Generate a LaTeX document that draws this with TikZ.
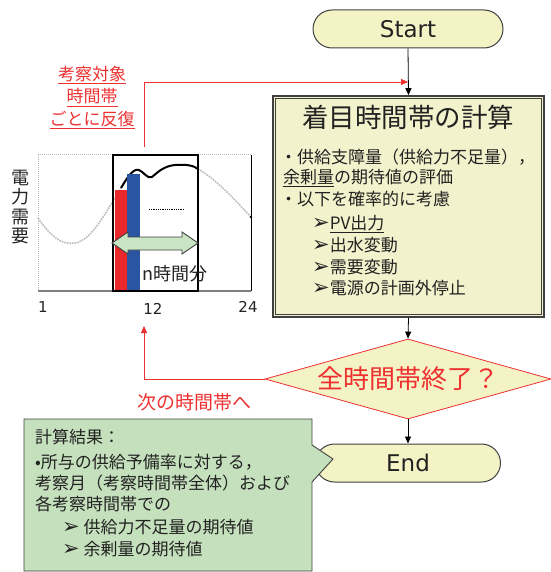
\documentclass[tikz,border=0pt]{standalone}
\usepackage{fontspec}
\setmainfont{DejaVu Sans}
\newfontfamily\jp{Noto Sans CJK JP}
\newfontfamily\dv{DejaVu Sans}
\usetikzlibrary{shapes.geometric,shapes.misc,arrows.meta,calc}
\definecolor{termfill}{HTML}{F3F3C6}
\definecolor{boxfill}{HTML}{F2F2CC}
\definecolor{callfill}{HTML}{C5E0BC}
\definecolor{myred}{HTML}{EE3030}
\definecolor{myblue}{HTML}{2A55A3}
\definecolor{barred}{HTML}{E8282B}
\definecolor{dblgreen}{HTML}{C8E4C2}
\definecolor{textdark}{HTML}{222222}
\definecolor{lineg}{HTML}{404040}
\definecolor{dotg}{HTML}{BBBBBB}
\newcommand{\arrbul}{{\dv\fontsize{21}{17}\selectfont ➢}}
\begin{document}
\begin{tikzpicture}[x=1pt,y=-1pt,
  term/.style={rounded rectangle, draw=lineg, line width=1pt, fill=termfill,
    minimum height=38pt, inner sep=0pt, text=textdark,
    font=\dv\fontsize{23}{23}\selectfont},
  flow/.style={-{Triangle[length=7pt,width=6pt]}, line width=0.8pt, draw=black},
  redflow/.style={-{Triangle[length=7pt,width=6pt]}, line width=0.8pt, draw=myred},
  txt/.style={anchor=west, inner sep=0pt, text=textdark,
    font=\jp\fontsize{17}{17}\selectfont},
  redtxt/.style={inner sep=0pt, text=myred, align=center},
  axlab/.style={inner sep=0pt, text=textdark, font=\dv\fontsize{15}{15}\selectfont},
]
\useasboundingbox (0,0) rectangle (550,572);

% ---------- flow nodes ----------
\node[term, minimum width=190pt] (start) at (408,29) {Start};

\node[draw=lineg, line width=1.6pt, fill=boxfill, minimum width=271pt,
      minimum height=221pt, inner sep=0pt] (box) at (408.5,206.5) {};
\draw[lineg, line width=0.7pt] ($(box.north west)+(3.5,3.5)$) rectangle ($(box.south east)+(-3.5,-3.5)$);

\node[inner sep=0pt, text=textdark, font=\jp\fontsize{26.5}{26}\selectfont] (title) at (408,117) {着目時間帯の計算};
\node[txt] (b1) at (280,157) {・供給支障量（供給力不足量），};
\node[txt] (b2) at (283,178) {\underline{余剰量}の期待値の評価};
\node[txt] (b3) at (280,199) {・以下を確率的に考慮};
\node[txt] (b4) at (312,224) {\arrbul\underline{PV出力}};
\node[txt] (b5) at (312,245) {\arrbul 出水変動};
\node[txt] (b6) at (312,267) {\arrbul 需要変動};
\node[txt] (b7) at (312,288) {\arrbul 電源の計画外停止};

\node[diamond, aspect=3.5, minimum width=286pt, minimum height=80pt, inner sep=0pt,
      draw=myred, line width=0.8pt, fill=termfill, text=myred,
      font=\jp\fontsize{26}{26}\selectfont] (dec) at (408,379) {全時間帯終了？};

\node[term, minimum width=185pt] (end) at (408,463) {End};

% ---------- connectors ----------
\coordinate (rjoin) at (408,82);
\draw[flow] (start.south) -- (box.north);
\draw[flow] (box.south) -- (dec.north);
\draw[flow] (dec.south) -- (end.north);

\coordinate (rtop) at (144,147);
\draw[redflow] (rtop) |- (rjoin);
\coordinate (rloop) at (144,326);
\draw[redflow] (dec.west) -| (rloop);

\node[redtxt, font=\jp\fontsize{17}{22.5}\selectfont] (rlabel) at (92,97.5)
  {\underline{考察対象}\\\underline{時間帯}\\\underline{ごとに反復}};
\node[redtxt, font=\jp\fontsize{19}{19}\selectfont] (next) at (194,402) {次の時間帯へ};

% ---------- callout ----------
\coordinate (ctip) at (333,459);
\draw[fill=callfill, draw=lineg, line width=0.9pt]
  (24,419) -- (312,419) -- (312,445) -- (ctip) -- (312,482) -- (312,571) -- (24,571) -- cycle;
\node[txt] (c1) at (35,437) {計算結果：};
\node[txt] (c2) at (35,462) {•所与の供給予備率に対する，};
\node[txt] (c3) at (35,483) {考察月（考察時間帯全体）および};
\node[txt] (c4) at (35,504) {各考察時間帯での};
\node[txt] (c5) at (62,527) {\arrbul\ 供給力不足量の期待値};
\node[txt] (c6) at (62,549) {\arrbul\ 余剰量の期待値};

% ---------- chart ----------
\draw[dotg, line width=1pt, densely dotted] (38,155) -- (251,155);
\draw[dotg, line width=1pt, densely dotted] (38,155) -- (38,291);
\draw[black, line width=0.7pt] (251,155) -- (251,291);
\draw[gray, line width=1.6pt] (38,291) -- (251,291);
% dotted demand curve
\draw[dotg, line width=1.6pt, densely dotted]
  (38,218) .. controls (52,238) and (62,245) .. (75,243)
  .. controls (92,240) and (104,215) .. (121,188);
\draw[dotg, line width=1.6pt, densely dotted]
  (198,169) .. controls (215,178) and (235,200) .. (251,217);
\fill[black] (251,217) circle (1.3pt);
% solid curve in window
\draw[black, line width=2pt]
  (121,188) .. controls (127,178) and (133,168) .. (139,170)
  .. controls (144,172) and (147,179) .. (152,177)
  .. controls (158,172) and (164,166) .. (175,165)
  .. controls (188,164) and (194,166) .. (198,169);
% bars
\fill[barred] (115,190) rectangle (127,291);
\fill[myblue] (127,174) rectangle (140,291);
% window
\draw[black, line width=2pt] (113,155) rectangle (198,291);
\draw[black, line width=0.8pt, densely dotted] (149,209) -- (184,209);
% double arrow
\draw[fill=dblgreen, draw=lineg, line width=0.9pt]
  (112,243) -- (128,232) -- (128,237) -- (182,237) -- (182,232) -- (198,243)
  -- (182,254) -- (182,250) -- (128,250) -- (128,254) -- cycle;
\node[txt, font=\jp\fontsize{18}{18}\selectfont] (nh) at (142,274) {n時間分};
% axis labels
\node[axlab] (x1) at (43,307) {1};
\node[axlab] (x12) at (153,309) {12};
\node[axlab] (x24) at (248,307) {24};
\node[inner sep=0pt, text=textdark, align=center,
      font=\jp\fontsize{18}{19.5}\selectfont] (ylab) at (20,207) {電\\力\\需\\要};
\end{tikzpicture}
\end{document}
